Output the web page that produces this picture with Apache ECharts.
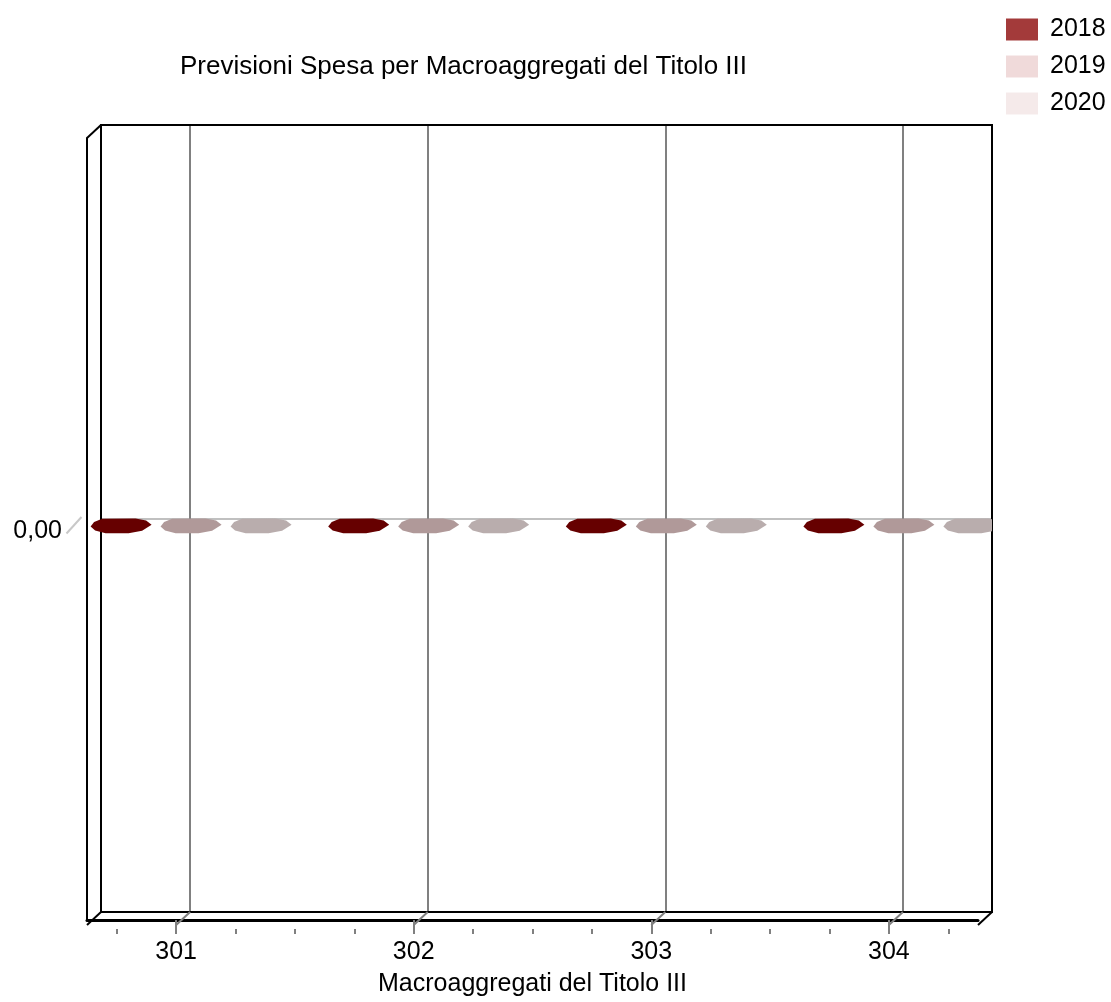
<!DOCTYPE html>
<html>
<head>
<meta charset="utf-8">
<script src="https://cdn.jsdelivr.net/npm/echarts@6/dist/echarts.min.js"></script>
<style>
html,body{margin:0;padding:0;background:#fff;}
#chart{width:1111px;height:1002px;}
</style>
</head>
<body>
<div id="chart"></div>
<script>
// ---- data ----
const categories = ['301', '302', '303', '304'];
const seriesNames = ['2018', '2019', '2020'];
const values2018 = [0, 0, 0, 0];
const values2019 = [0, 0, 0, 0];
const values2020 = [0, 0, 0, 0];
const yTickLabels = { '0': '0,00' };
const chartTitle = 'Previsioni Spesa per Macroaggregati del Titolo III';
const xAxisTitle = 'Macroaggregati del Titolo III';

// ---- layout / style ----
const FONT = "'Liberation Sans', Arial, sans-serif";
const FS = 25;
const X_MIN = 0.625, X_MAX = 4.375;   // category i sits at i+1
const Y_MIN = -1, Y_MAX = 1;
const DX = -14, DY = 13;              // depth offset (oblique projection)
const SLOT = 0.125;
const SLOT_COUNT = Math.round((X_MAX - X_MIN) / SLOT) + 1;
const slotData = Array.from({ length: SLOT_COUNT }, (_, k) => {
  const c = X_MIN + k * SLOT - 1;
  return (Number.isInteger(c) && c >= 0 && c < categories.length) ? categories[c] : '';
});
const isMajor = (i, v) => v !== '';
const isMinor = (i) => i % 2 === 1;

const SERIES_SHIFT = [-0.2315, 0.0631, 0.3577];
const BAR_COLORS = ['#660000', '#b09999', '#b9adad'];
const LEGEND_COLORS = ['#a33a3a', '#f0dada', '#f5eaea'];
const TOP_FACE = [[-19, -6.7], [14.5, -7], [25, -5], [30.5, -0.7], [21, 5.3], [7.5, 7.7], [-15.5, 7.7], [-26, 5], [-30.5, 1], [-27, -3.5]];

const BACK = { left: 101, top: 125, width: 891, height: 787 };
const FRONT = { left: BACK.left + DX, top: BACK.top + DY, width: BACK.width, height: BACK.height };

const allValues = [values2018, values2019, values2020];

function frameRender(params, api) {
  const tl = api.coord([X_MIN, Y_MAX]);
  const br = api.coord([X_MAX, Y_MIN]);
  const bl = [tl[0], br[1]];
  const blk = { stroke: '#000', lineWidth: 2, fill: null };
  const children = [
    { type: 'rect', shape: { x: tl[0], y: tl[1], width: br[0] - tl[0], height: br[1] - tl[1] }, style: blk },
    { type: 'line', shape: { x1: tl[0], y1: tl[1], x2: tl[0] + DX, y2: tl[1] + DY }, style: blk },
    { type: 'line', shape: { x1: bl[0], y1: bl[1], x2: bl[0] + DX, y2: bl[1] + DY }, style: blk },
    { type: 'line', shape: { x1: br[0], y1: br[1], x2: br[0] + DX, y2: br[1] + DY }, style: blk }
  ];
  categories.forEach((c, i) => {
    const p = api.coord([i + 1, Y_MIN]);
    children.push({ type: 'line', shape: { x1: p[0], y1: p[1], x2: p[0] + DX, y2: p[1] + DY }, style: { stroke: '#808080', lineWidth: 2 } });
  });
  const z = api.coord([X_MIN, 0]);
  children.push({ type: 'line', shape: { x1: z[0] - 34.5, y1: z[1] + 15, x2: z[0] - 19.5, y2: z[1] - 1.5 }, style: { stroke: '#c8c8c8', lineWidth: 2 } });
  return { type: 'group', children };
}

function barRender(s) {
  return function (params, api) {
    const x = api.value(0) + SERIES_SHIFT[s];
    const v = api.value(1);
    const p = api.coord([x, v]);
    const z = api.coord([x, 0]);
    const cx = p[0] - 14, cy = p[1] + 7;
    const right = api.coord([X_MAX, 0])[0];
    const children = [];
    if (Math.abs(z[1] - p[1]) > 0.5) {
      children.push({ type: 'rect', shape: { x: cx - 30.5, y: Math.min(p[1], z[1]) + 7, width: 61, height: Math.abs(z[1] - p[1]) }, style: { fill: BAR_COLORS[s] } });
    }
    children.push({
      type: 'polygon',
      shape: { points: TOP_FACE.map(([u, w]) => [cx + u, cy + w]) },
      style: { fill: BAR_COLORS[s] }
    });
    return { type: 'group', children, clipPath: { type: 'rect', shape: { x: 0, y: 0, width: right, height: 2000 } } };
  };
}

const chart = echarts.init(document.getElementById('chart'), null, { renderer: 'canvas' });
chart.setOption({
  animation: false,
  backgroundColor: '#fff',
  textStyle: { fontFamily: FONT },
  title: {
    text: chartTitle, left: 180, top: 54, padding: 0,
    textStyle: { fontFamily: FONT, fontSize: 26, fontWeight: 'normal', color: '#000', lineHeight: 26 }
  },
  legend: {
    data: seriesNames, orient: 'vertical', left: 1006, top: 17, padding: 0,
    itemWidth: 32, itemHeight: 22, itemGap: 12, icon: 'rect',
    textStyle: { fontFamily: FONT, fontSize: FS, color: '#000', lineHeight: 22, padding: [0, 0, 0, 7] }
  },
  grid: [
    { left: BACK.left, top: BACK.top, width: BACK.width, height: BACK.height },
    { left: FRONT.left, top: FRONT.top, width: FRONT.width, height: FRONT.height },
    { left: FRONT.left, top: FRONT.top + 4, width: FRONT.width, height: FRONT.height }
  ],
  xAxis: [
    { gridIndex: 0, type: 'category', data: slotData, boundaryGap: false,
      axisLine: { show: false, onZero: false }, axisTick: { show: false }, axisLabel: { show: false },
      splitLine: { show: true, interval: isMajor, lineStyle: { color: '#808080', width: 2 } } },
    { gridIndex: 1, type: 'category', data: slotData, boundaryGap: false,
      axisLine: { show: true, onZero: false, lineStyle: { color: '#000', width: 3 } },
      axisTick: { show: true, interval: isMajor, length: 14, lineStyle: { color: '#808080', width: 2 } },
      axisLabel: { show: true, interval: isMajor, margin: 20, fontFamily: FONT, fontSize: FS, color: '#000', lineHeight: 25 },
      splitLine: { show: false },
      name: xAxisTitle, nameLocation: 'middle', nameGap: 52,
      nameTextStyle: { fontFamily: FONT, fontSize: FS, color: '#000', lineHeight: 25, verticalAlign: 'top' } },
    { gridIndex: 2, type: 'category', data: slotData, boundaryGap: false,
      axisLine: { show: false, onZero: false },
      axisTick: { show: true, interval: isMinor, length: 5, lineStyle: { color: '#808080', width: 2 } },
      axisLabel: { show: false }, splitLine: { show: false } },
    { gridIndex: 0, type: 'value', min: X_MIN, max: X_MAX, show: false, axisLine: { onZero: false } }
  ],
  yAxis: [
    { gridIndex: 0, type: 'value', min: Y_MIN, max: Y_MAX, interval: 1,
      axisLine: { show: false, onZero: false }, axisTick: { show: false }, axisLabel: { show: false },
      splitLine: { show: true, lineStyle: { color: ['rgba(0,0,0,0)', '#c0c0c0', 'rgba(0,0,0,0)'], width: 2 } } },
    { gridIndex: 1, type: 'value', min: Y_MIN, max: Y_MAX, interval: 1,
      axisLine: { show: true, onZero: false, lineStyle: { color: '#000', width: 2 } }, axisTick: { show: false },
      axisLabel: { show: true, margin: 25, fontFamily: FONT, fontSize: FS, color: '#000',
        formatter: (v) => yTickLabels[String(v)] ? '{a|' + yTickLabels[String(v)] + '}' : '',
        rich: { a: { fontFamily: FONT, fontSize: FS, color: '#000', lineHeight: 25, padding: [5, 0, 0, 0] } } },
      splitLine: { show: false } },
    { gridIndex: 2, type: 'value', min: Y_MIN, max: Y_MAX, show: false }
  ],
  series: [
    { type: 'custom', name: 'frame', xAxisIndex: 3, yAxisIndex: 0, data: [[X_MIN, 0]], renderItem: frameRender, silent: true, clip: false, z: 2 },
    ...seriesNames.map((name, s) => ({
      type: 'custom', name, xAxisIndex: 3, yAxisIndex: 0, clip: false, z: 3,
      itemStyle: { color: LEGEND_COLORS[s] },
      encode: { x: 0, y: 1 },
      data: allValues[s].map((v, i) => [i + 1, v]),
      renderItem: barRender(s)
    }))
  ]
});
</script>
</body>
</html>
